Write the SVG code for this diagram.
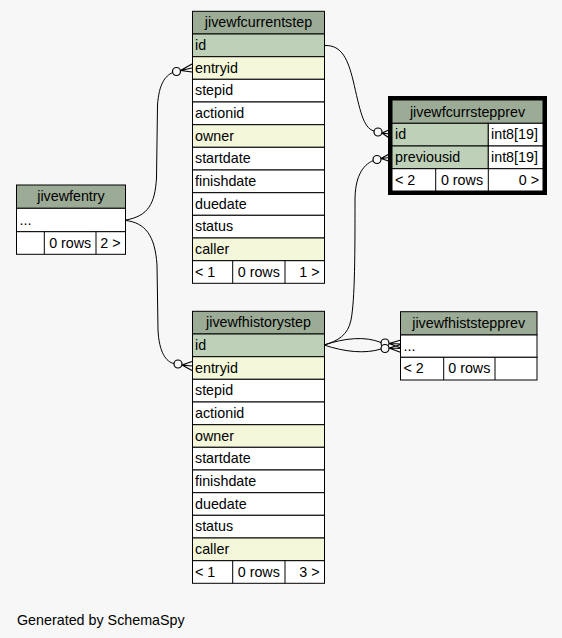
<svg xmlns="http://www.w3.org/2000/svg" width="562" height="638" viewBox="0 0 562 638">
<style>
text{font-family:"Liberation Sans",Arial,sans-serif;font-size:14.3px;fill:#000}
.c{text-anchor:middle}
.e{text-anchor:end}
.hd{fill:#9bab96;stroke:#000;stroke-width:1}
.pk{fill:#bed1b8;stroke:#000;stroke-width:1}
.ix{fill:#f4f7da;stroke:#000;stroke-width:1}
.nm{fill:#ffffff;stroke:#000;stroke-width:1}
.ln{fill:none;stroke:#000;stroke-width:1}
.dot{fill:#f7f7f7;stroke:#000;stroke-width:1.2}
.cr{fill:none;stroke:#000;stroke-width:1.2}
</style>
<rect x="0" y="0" width="562" height="638" fill="#f7f7f7"/>
<g id="connectors">
<path class="ln" d="M126,220 C148,216 155,204 156.5,178 L157.5,105 C159,84 165,76 172.7,72.5"/>
<circle class="dot" cx="176.5" cy="71.5" r="4"/>
<path class="cr" d="M180.5,70.5 L192,64 M180.5,70.5 L192,68 M180.5,70.5 L192,72"/>
<path class="ln" d="M126,220.5 C145,223 155,235 157,265 L158,330 C159,352 166,362 174,363.5"/>
<circle class="dot" cx="178" cy="364" r="4"/>
<path class="cr" d="M182,365 L192,361.5 M182,365 L192,366 M182,365 L192,370.5"/>
<path class="ln" d="M325,45.5 C342,45 348,60 353,80 C360,110 363,128 374,131"/>
<circle class="dot" cx="378" cy="132" r="4"/>
<path class="cr" d="M382,133 L390,129.5 M382,133 L390,134 M382,133 L390,138.5"/>
<path class="ln" d="M324,345 C338,341 348,335 351,320 C355,300 355,250 355,200 C355,178 362,165 373.5,160.5"/>
<circle class="dot" cx="377" cy="159.5" r="4"/>
<path class="cr" d="M381,158.5 L390,153.5 M381,158.5 L390,157.5 M381,158.5 L390,161.5"/>
<path class="ln" d="M324,345 C345,338 365,336 381,342.5"/>
<path class="ln" d="M324,345 C345,352 365,354 381,349"/>
<circle class="dot" cx="385" cy="343" r="4"/>
<circle class="dot" cx="385" cy="348.5" r="4"/>
<path class="cr" d="M389,343.5 L401,340 M389,343.5 L401,344 M389,343.5 L401,348 M389,348 L401,344.5 M389,348 L401,348.5 M389,348 L401,352.5"/>
</g>
<g id="jivewfcurrentstep">
<rect class="hd" x="192.5" y="11.3" width="132" height="22.7"/>
<text class="c" x="258.5" y="27">jivewfcurrentstep</text>
<rect class="pk" x="192.5" y="34" width="132" height="22.7"/>
<text x="195" y="50">id</text>
<rect class="ix" x="192.5" y="56.7" width="132" height="22.6"/>
<text x="195" y="72.5">entryid</text>
<rect class="nm" x="192.5" y="79.3" width="132" height="22.7"/>
<text x="195" y="95">stepid</text>
<rect class="nm" x="192.5" y="102" width="132" height="22.7"/>
<text x="195" y="117.7">actionid</text>
<rect class="ix" x="192.5" y="124.7" width="132" height="22.6"/>
<text x="195" y="140.5">owner</text>
<rect class="nm" x="192.5" y="147.3" width="132" height="22.7"/>
<text x="195" y="163">startdate</text>
<rect class="nm" x="192.5" y="170" width="132" height="22.7"/>
<text x="195" y="185.7">finishdate</text>
<rect class="nm" x="192.5" y="192.7" width="132" height="22.6"/>
<text x="195" y="208.5">duedate</text>
<rect class="nm" x="192.5" y="215.3" width="132" height="22.7"/>
<text x="195" y="231">status</text>
<rect class="ix" x="192.5" y="238" width="132" height="22.7"/>
<text x="195" y="253.7">caller</text>
<rect class="nm" x="192.5" y="260.7" width="132" height="22.6"/>
<line class="ln" x1="232.7" y1="260.7" x2="232.7" y2="283.3"/>
<line class="ln" x1="285" y1="260.7" x2="285" y2="283.3"/>
<text x="195" y="276.5">&lt; 1</text>
<text class="c" x="258.8" y="276.5">0 rows</text>
<text class="e" x="319.5" y="276.5">1 &gt;</text>
</g>
<g id="jivewfhistorystep">
<rect class="hd" x="192.5" y="311.3" width="132" height="22.7"/>
<text class="c" x="258.5" y="327">jivewfhistorystep</text>
<rect class="pk" x="192.5" y="334" width="132" height="22.7"/>
<text x="195" y="350">id</text>
<rect class="ix" x="192.5" y="356.7" width="132" height="22.6"/>
<text x="195" y="372.5">entryid</text>
<rect class="nm" x="192.5" y="379.3" width="132" height="22.7"/>
<text x="195" y="395">stepid</text>
<rect class="nm" x="192.5" y="402" width="132" height="22.7"/>
<text x="195" y="417.7">actionid</text>
<rect class="ix" x="192.5" y="424.7" width="132" height="22.6"/>
<text x="195" y="440.5">owner</text>
<rect class="nm" x="192.5" y="447.3" width="132" height="22.7"/>
<text x="195" y="463">startdate</text>
<rect class="nm" x="192.5" y="470" width="132" height="22.7"/>
<text x="195" y="485.7">finishdate</text>
<rect class="nm" x="192.5" y="492.7" width="132" height="22.6"/>
<text x="195" y="508.5">duedate</text>
<rect class="nm" x="192.5" y="515.3" width="132" height="22.7"/>
<text x="195" y="531">status</text>
<rect class="ix" x="192.5" y="538" width="132" height="22.7"/>
<text x="195" y="553.7">caller</text>
<rect class="nm" x="192.5" y="560.7" width="132" height="22.6"/>
<line class="ln" x1="232.7" y1="560.7" x2="232.7" y2="583.3"/>
<line class="ln" x1="285" y1="560.7" x2="285" y2="583.3"/>
<text x="195" y="576.5">&lt; 1</text>
<text class="c" x="258.8" y="576.5">0 rows</text>
<text class="e" x="319.5" y="576.5">3 &gt;</text>
</g>
<g id="jivewfentry">
<rect class="hd" x="16.5" y="185" width="109" height="23.3"/>
<text class="c" x="71" y="201">jivewfentry</text>
<rect class="nm" x="16.5" y="208.3" width="109" height="23.4"/>
<text x="19.5" y="224.5">...</text>
<rect class="nm" x="16.5" y="231.7" width="109" height="22.6"/>
<line class="ln" x1="44.3" y1="231.7" x2="44.3" y2="254.3"/>
<line class="ln" x1="96" y1="231.7" x2="96" y2="254.3"/>
<text class="c" x="70.2" y="247.5">0 rows</text>
<text class="e" x="120.5" y="247.5">2 &gt;</text>
</g>
<g id="jivewfcurrstepprev">
<rect class="hd" x="392" y="100" width="151" height="23.3"/>
<text class="c" x="467.5" y="116.5">jivewfcurrstepprev</text>
<rect class="pk" x="392" y="123.3" width="96.3" height="22.7"/>
<rect class="nm" x="488.3" y="123.3" width="54.7" height="22.7"/>
<text x="395" y="139.3">id</text>
<text x="491" y="139.3">int8[19]</text>
<rect class="pk" x="392" y="146" width="96.3" height="22.7"/>
<rect class="nm" x="488.3" y="146" width="54.7" height="22.7"/>
<text x="395" y="162">previousid</text>
<text x="491" y="162">int8[19]</text>
<rect class="nm" x="392" y="168.7" width="151" height="22.3"/>
<line class="ln" x1="435.7" y1="168.7" x2="435.7" y2="191"/>
<line class="ln" x1="488.3" y1="168.7" x2="488.3" y2="191"/>
<text x="395" y="184.5">&lt; 2</text>
<text class="c" x="462" y="184.5">0 rows</text>
<text class="e" x="539" y="184.5">0 &gt;</text>
<rect x="390" y="98" width="155" height="95" fill="none" stroke="#000" stroke-width="4"/>
</g>
<g id="jivewfhiststepprev">
<rect class="hd" x="400.5" y="311.7" width="136.5" height="23.3"/>
<text class="c" x="468.7" y="328">jivewfhiststepprev</text>
<rect class="nm" x="400.5" y="335" width="136.5" height="22.3"/>
<text x="403.5" y="350.7">...</text>
<rect class="nm" x="400.5" y="357.3" width="136.5" height="22.7"/>
<line class="ln" x1="443.7" y1="357.3" x2="443.7" y2="380"/>
<line class="ln" x1="495" y1="357.3" x2="495" y2="380"/>
<text x="403.5" y="373.3">&lt; 2</text>
<text class="c" x="469.3" y="373.3">0 rows</text>
</g>
<text x="17" y="625">Generated by SchemaSpy</text>
</svg>
